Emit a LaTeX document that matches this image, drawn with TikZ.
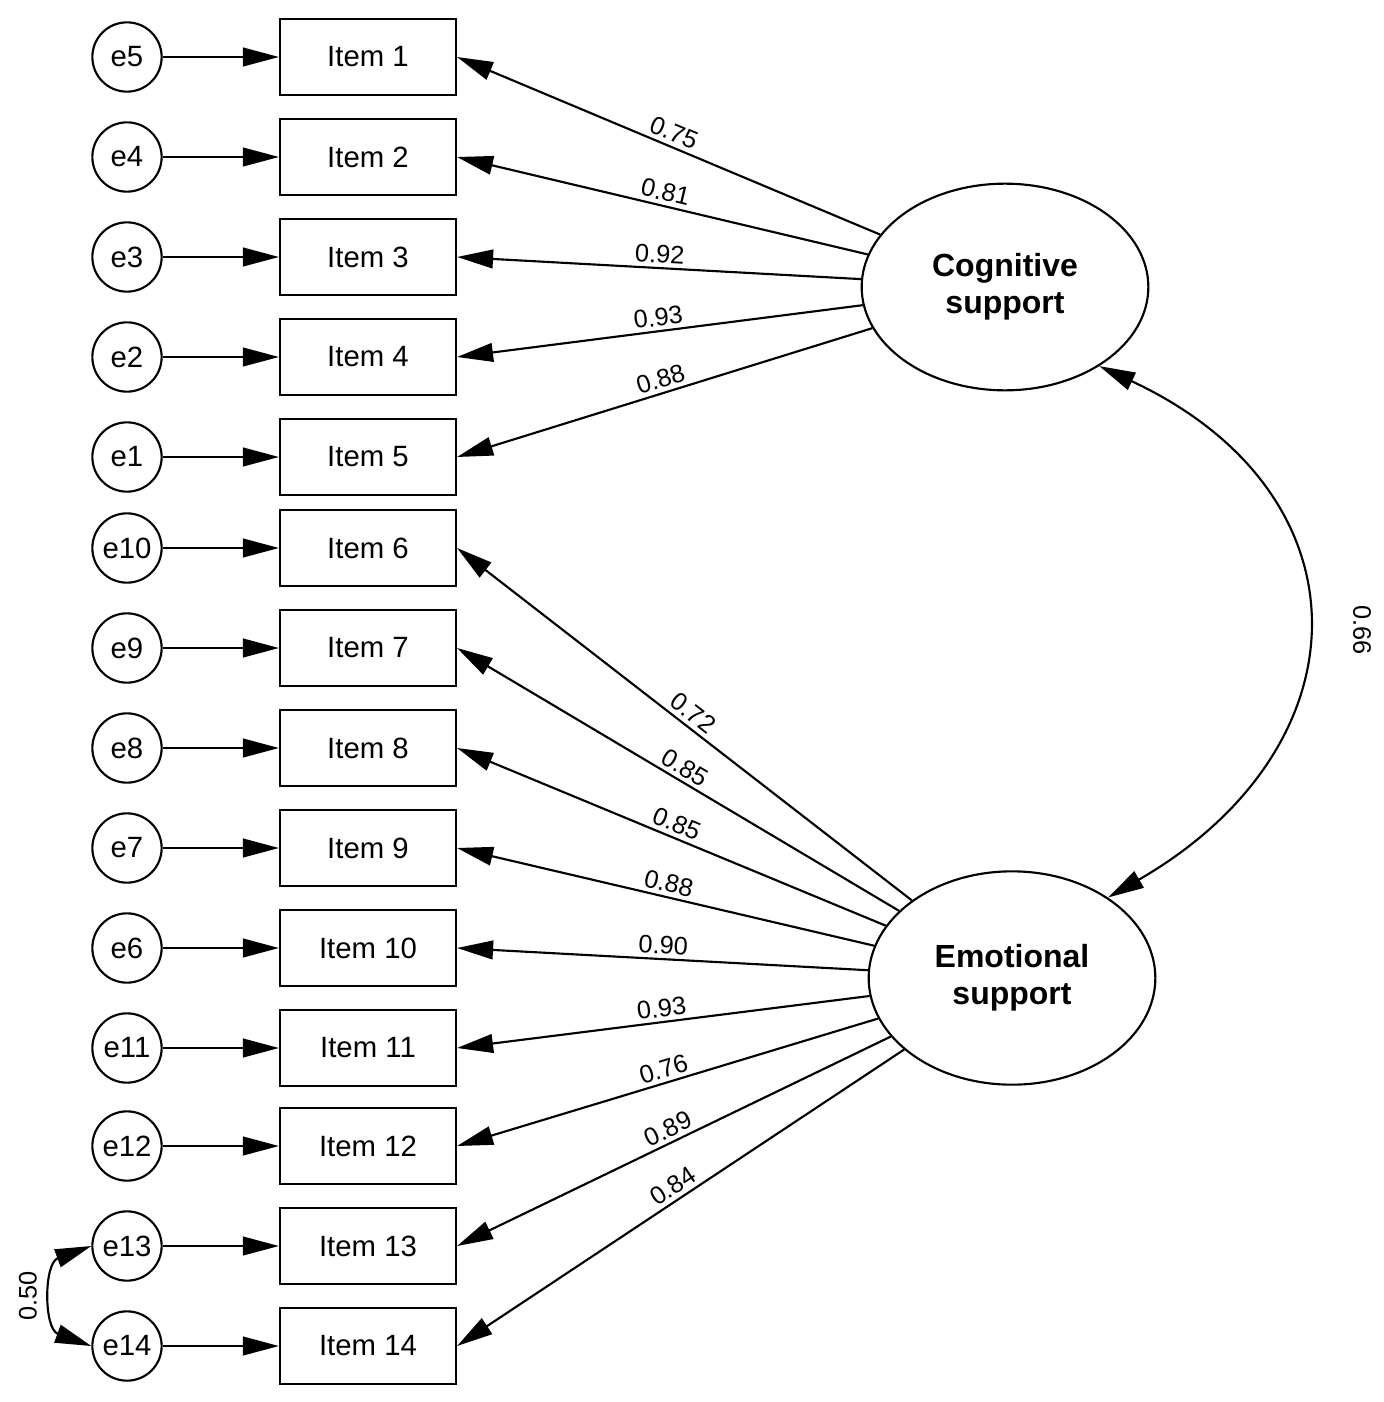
\documentclass[tikz,border=0pt]{standalone}
\usepackage{fontspec}
\setmainfont{Liberation Sans}
\usetikzlibrary{arrows.meta,shapes.geometric}
\begin{document}
\begin{tikzpicture}[x=0.75pt,y=-0.75pt,
  item/.style={draw,line width=1.6pt,minimum width=132pt,minimum height=57pt,inner sep=0pt,font=\fontsize{22}{26}\selectfont},
  err/.style={draw,circle,line width=1.6pt,minimum size=52pt,inner sep=0pt,font=\fontsize{22}{26}\selectfont},
  lat/.style={draw,ellipse,line width=1.6pt,minimum width=215pt,minimum height=155pt,align=center,font=\fontsize{24}{28}\selectfont\bfseries},
  arr/.style={line width=1.6pt,-{Triangle[length=27pt,width=14pt]}},
  darr/.style={line width=1.6pt,{Triangle[length=27pt,width=14pt]}-{Triangle[length=27pt,width=14pt]}},
  lab/.style={sloped,above,pos=0.5,inner sep=3pt,font=\fontsize{19}{21}\selectfont}]
\useasboundingbox (0,0) rectangle (1384,1402);
\node[lat] (cog) at (1005,287) {Cognitive\\support};
\node[lat,minimum height=160pt] (emo) at (1012,978) {Emotional\\support};
\foreach \n/\y/\e in {1/57/5,2/157/4,3/257/3,4/357/2,5/457/1,6/548/10,7/648/9,8/748/8,9/848/7,10/948/6,11/1048/11,12/1146/12,13/1246/13,14/1346/14}{
  \node[item] (i\n) at (368,\y) {Item \n};
  \node[err] (e\e) at (127,\y) {e\e};
  \draw[arr] (e\e) -- (i\n);
}
\foreach \n/\v in {1/0.75,2/0.81,3/0.92,4/0.93,5/0.88}{
  \draw[arr] (cog) -- node[lab]{\v} (i\n.east);
}
\foreach \n/\v in {6/0.72,7/0.85,8/0.85,9/0.88,10/0.90,11/0.93,12/0.76,13/0.89,14/0.84}{
  \draw[arr] (emo) -- node[lab]{\v} (i\n.east);
}
\draw[darr] (cog.-40) to[out=-25,in=30,looseness=1.45] (emo.40);
\node[rotate=-90,font=\fontsize{19}{21}\selectfont] (c1) at (1362,630) {0.66};
\draw[darr] (e13.west) to[out=-160,in=160,looseness=1.3] (e14.west);
\node[rotate=90,font=\fontsize{19}{21}\selectfont] (c2) at (28,1296) {0.50};
\end{tikzpicture}
\end{document}
